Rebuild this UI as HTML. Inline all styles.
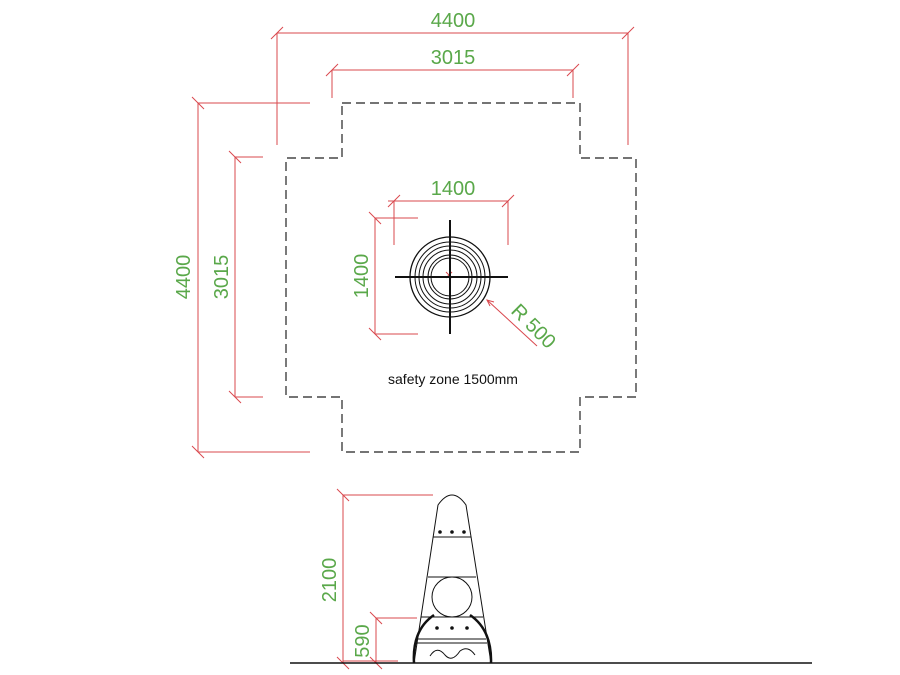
<!DOCTYPE html><html><head><style>body{margin:0;background:#fff}svg{display:block}</style></head><body>
<svg width="900" height="675" viewBox="0 0 900 675" xmlns="http://www.w3.org/2000/svg" font-family="Liberation Sans, sans-serif">
<g stroke="#d9484e" stroke-width="1" fill="none">
<line x1="277" y1="33" x2="628" y2="33"/><line x1="277" y1="33" x2="277" y2="145"/><line x1="628" y1="33" x2="628" y2="145"/>
<line x1="271" y1="39" x2="283" y2="27"/><line x1="622" y1="39" x2="634" y2="27"/>
<line x1="332" y1="70" x2="573" y2="70"/><line x1="332" y1="70" x2="332" y2="98"/><line x1="573" y1="70" x2="573" y2="98"/>
<line x1="326" y1="76" x2="338" y2="64"/><line x1="567" y1="76" x2="579" y2="64"/>
<line x1="198" y1="103" x2="310" y2="103"/><line x1="198" y1="103" x2="198" y2="452"/><line x1="198" y1="452" x2="310" y2="452"/>
<line x1="192" y1="97" x2="204" y2="109"/><line x1="192" y1="446" x2="204" y2="458"/>
<line x1="235" y1="157" x2="263" y2="157"/><line x1="235" y1="157" x2="235" y2="397"/><line x1="235" y1="397" x2="263" y2="397"/>
<line x1="229" y1="151" x2="241" y2="163"/><line x1="229" y1="391" x2="241" y2="403"/>
<line x1="388" y1="201" x2="508" y2="201"/><line x1="394" y1="201" x2="394" y2="245"/><line x1="508" y1="201" x2="508" y2="245"/>
<line x1="388" y1="207" x2="400" y2="195"/><line x1="502" y1="207" x2="514" y2="195"/>
<line x1="375" y1="218" x2="418" y2="218"/><line x1="375" y1="218" x2="375" y2="334"/><line x1="375" y1="334" x2="418" y2="334"/>
<line x1="369" y1="212" x2="381" y2="224"/><line x1="369" y1="328" x2="381" y2="340"/>
<line x1="487" y1="300" x2="537" y2="346"/><polyline points="494,302 487,300 490,306"/>
<line x1="446" y1="272" x2="452" y2="278"/><line x1="452" y1="272" x2="446" y2="278"/>
<line x1="343" y1="495" x2="433" y2="495"/><line x1="343" y1="495" x2="343" y2="663"/>
<line x1="337" y1="489" x2="349" y2="501"/><line x1="337" y1="657" x2="349" y2="669"/>
<line x1="376" y1="618" x2="417" y2="618"/><line x1="376" y1="618" x2="376" y2="663"/>
<line x1="370" y1="612" x2="382" y2="624"/><line x1="370" y1="657" x2="382" y2="669"/>
<line x1="343" y1="661" x2="398" y2="661"/>
</g>
<g fill="#5aa84a" font-size="20">
<text x="453" y="27" text-anchor="middle">4400</text>
<text x="453" y="64" text-anchor="middle">3015</text>
<text x="453" y="195" text-anchor="middle">1400</text>
<text transform="translate(190,277) rotate(-90)" text-anchor="middle">4400</text>
<text transform="translate(228,277) rotate(-90)" text-anchor="middle">3015</text>
<text transform="translate(368,276) rotate(-90)" text-anchor="middle">1400</text>
<text transform="translate(510,312) rotate(45)">R 500</text>
<text transform="translate(336,580) rotate(-90)" text-anchor="middle">2100</text>
<text transform="translate(369,641) rotate(-90)" text-anchor="middle">590</text>
</g>
<path d="M342,103 H580 V158 H636 V397 H580 V452 H342 V397 H286 V158 H342 Z" fill="none" stroke="#222" stroke-width="1.2" stroke-dasharray="9,5"/>
<text x="453" y="384" font-size="14" text-anchor="middle" fill="#111">safety zone 1500mm</text>
<g stroke="#111" fill="none">
<circle cx="450" cy="277" r="40" stroke-width="1.3"/><circle cx="450" cy="277" r="35"/><circle cx="450" cy="277" r="31"/><circle cx="450" cy="277" r="27"/><circle cx="450" cy="277" r="22"/><circle cx="450" cy="277" r="19"/>
<line x1="395" y1="277" x2="508" y2="277" stroke-width="2"/><line x1="450" y1="220" x2="450" y2="334" stroke-width="2"/>
<line x1="290" y1="663" x2="812" y2="663" stroke-width="1.5"/>
<path d="M414,663 L438,505 Q452,485 466,505 L491,663"/>
<path d="M433,537 H471 M428,577 H476 M421,617 H483 M418,639 H486 M417,643 H487"/>
<circle cx="452" cy="597" r="20"/>
<path d="M434,615 Q412,630 414,663 M470,615 Q492,630 491,663" stroke-width="2.5"/>
<path d="M430,656 Q437,645 445,655 Q452,663 460,651 Q468,645 475,655"/>
<g fill="#111"><circle cx="440" cy="532" r="1.3"/><circle cx="452" cy="532" r="1.3"/><circle cx="464" cy="532" r="1.3"/><circle cx="437" cy="628" r="1.3"/><circle cx="452" cy="628" r="1.3"/><circle cx="467" cy="628" r="1.3"/></g>
</g>
</svg></body></html>
